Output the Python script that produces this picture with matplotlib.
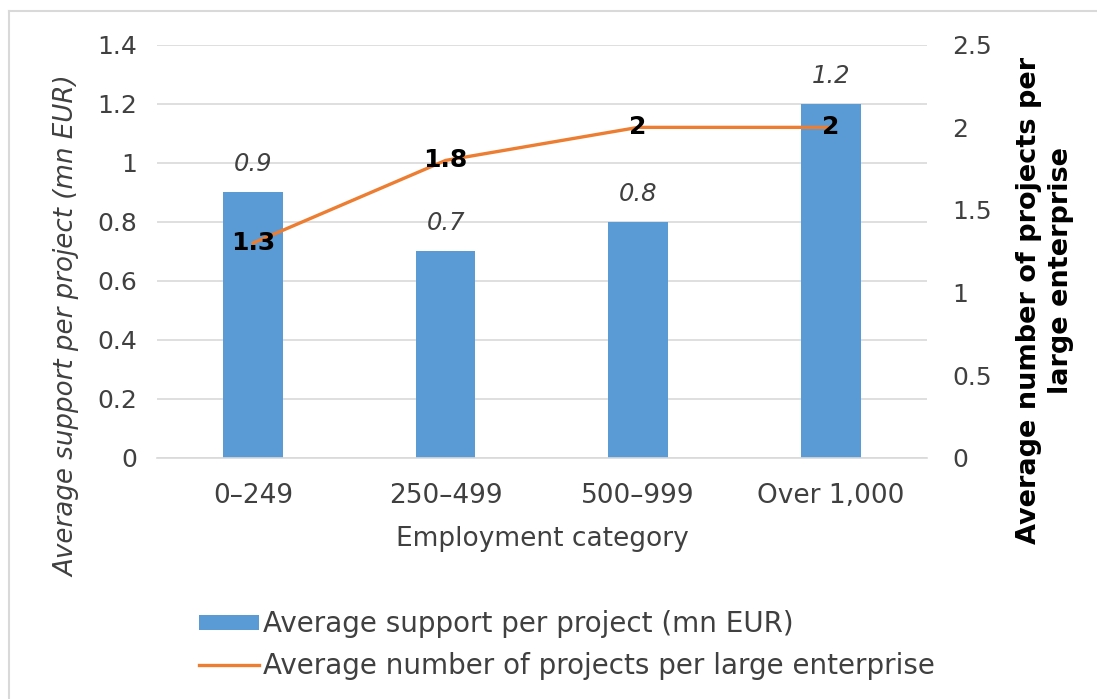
import matplotlib.pyplot as plt
from matplotlib.lines import Line2D

categories = ['0\u2013249', '250\u2013499', '500\u2013999', 'Over 1,000']
support = [0.9, 0.7, 0.8, 1.2]
projects = [1.3, 1.8, 2, 2]
support_labels = ['0.9', '0.7', '0.8', '1.2']
project_labels = ['1.3', '1.8', '2', '2']

blue = '#5B9BD5'
orange = '#ED7D31'
grid = '#D9D9D9'
text_c = '#404040'

plt.rcParams['font.family'] = 'DejaVu Sans'

fig = plt.figure(figsize=(10.97, 6.99), dpi=100)
ax = fig.add_axes([0.143, 0.345, 0.702, 0.591])
ax2 = ax.twinx()

x = range(len(categories))
ax.bar(x, support, width=0.31, color=blue, zorder=2, label='Average support per project (mn EUR)')
for i, v in enumerate(support):
    ax.text(i, v + 0.055, support_labels[i], ha='center', va='bottom', fontsize=17.5,
            style='italic', color=text_c)

ax2.plot(x, projects, color=orange, lw=2.4, zorder=3,
         label='Average number of projects per large enterprise')
for i, v in enumerate(projects):
    ax2.text(i, v, project_labels[i], ha='center', va='center', fontsize=18,
             fontweight='bold', color='black')

ax.set_xlim(-0.5, 3.5)
ax.set_ylim(0, 1.4)
ax.set_yticks([0, 0.2, 0.4, 0.6, 0.8, 1, 1.2, 1.4])
ax.set_yticklabels(['0', '0.2', '0.4', '0.6', '0.8', '1', '1.2', '1.4'])
ax2.set_ylim(0, 2.5)
ax2.set_yticks([0, 0.5, 1, 1.5, 2, 2.5])
ax2.set_yticklabels(['0', '0.5', '1', '1.5', '2', '2.5'])
ax.set_xticks(list(x))
ax.set_xticklabels(categories)

ax.yaxis.grid(True, color=grid, lw=1.2, zorder=0)
ax.set_axisbelow(True)
for a in (ax, ax2):
    for s in a.spines.values():
        s.set_visible(False)
    a.tick_params(length=0, labelsize=18, colors=text_c)
ax.spines['bottom'].set_visible(True)
ax.spines['bottom'].set_color(grid)
ax.spines['bottom'].set_linewidth(1.2)
ax.tick_params(axis='y', pad=14)
ax.tick_params(axis='x', pad=18, labelsize=19)
ax2.tick_params(axis='y', pad=18)

ax.set_xlabel('Employment category', fontsize=19, color=text_c, labelpad=12)
fig.text(0.061, 0.534, 'Average support per project (mn EUR)', rotation=90,
         ha='center', va='center', fontsize=18.8, style='italic', color=text_c)

# right axis title: two separately placed lines
fig.text(0.938, 0.57, 'Average number of projects per', rotation=90,
         ha='center', va='center', fontsize=19.5, fontweight='bold', color='black')
fig.text(0.967, 0.613, 'large enterprise', rotation=90,
         ha='center', va='center', fontsize=19.5, fontweight='bold', color='black')

h1, l1 = ax.get_legend_handles_labels()
h2, l2 = ax2.get_legend_handles_labels()
fig.legend(h1 + h2, l1 + l2, loc='upper left', bbox_to_anchor=(0.181, 0.127),
           frameon=False, fontsize=20, handlelength=2.16, handletextpad=0.15,
           handleheight=0.45, labelspacing=0.48, borderaxespad=0, borderpad=0,
           labelcolor=text_c)

# outer frame: top and left edges only
fig.add_artist(Line2D([0.008, 1.0], [0.984, 0.984], transform=fig.transFigure,
                      color='#D9D9D9', lw=1.5))
fig.add_artist(Line2D([0.008, 0.008], [0.0, 0.984], transform=fig.transFigure,
                      color='#D9D9D9', lw=1.5))

fig.savefig('out.png', dpi=100)
